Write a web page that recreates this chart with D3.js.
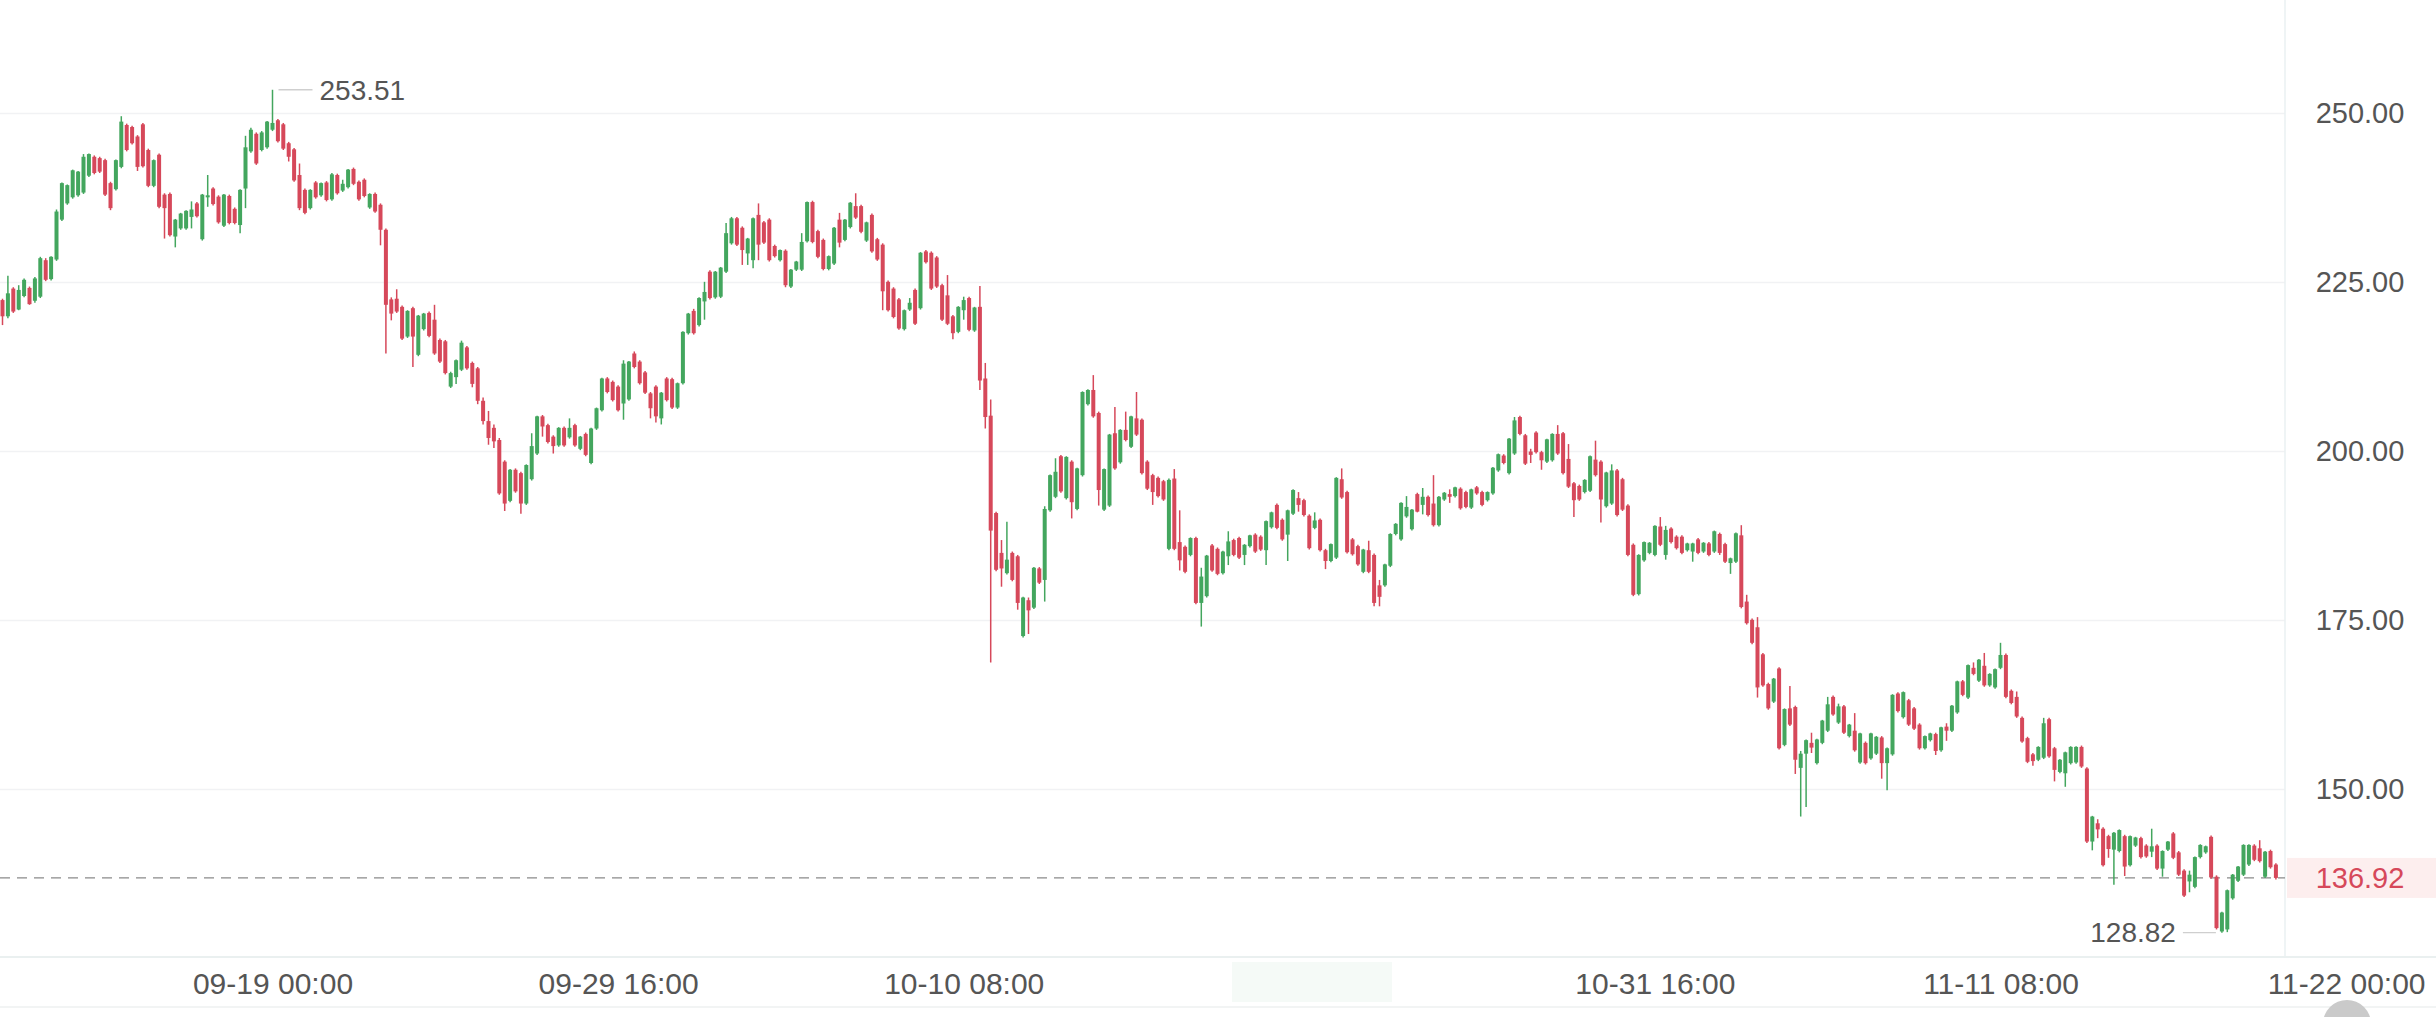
<!DOCTYPE html>
<html><head><meta charset="utf-8">
<script src="https://cdn.jsdelivr.net/npm/d3@7"></script>
<style>html,body{margin:0;padding:0;background:#fff;overflow:hidden}</style>
</head><body>
<svg id="chart" width="2436" height="1017"></svg>
<script>
// ---- data (4-hour candles) ----
const startTime = "2024-09-10T16:00:00Z";
const candleHours = 4;
const open = [
222.4,220.0,224.1,221.0,223.0,224.2,222.3,222.9,228.3,225.5,
228.4,234.3,236.7,237.6,237.9,238.3,240.8,243.6,243.4,243.1,
239.7,238.8,242.1,248.3,248.0,246.6,248.4,244.6,239.3,243.9,
238.0,238.1,231.8,233.0,233.0,234.7,236.7,231.4,237.6,238.9,
237.7,233.4,237.8,235.9,233.5,238.9,244.4,247.0,244.6,245.0,
247.6,249.0,248.4,245.6,244.7,240.9,238.7,236.0,239.8,237.9,
239.8,237.3,240.9,238.6,239.1,241.8,239.9,240.2,236.1,238.1,
236.5,232.8,222.5,222.6,221.4,217.0,221.2,214.3,218.1,220.5,
219.5,216.5,216.3,209.6,211.0,212.1,215.4,213.1,212.3,207.5,
204.5,203.5,201.7,198.5,192.7,197.3,196.8,192.3,195.9,199.7,
205.2,203.9,202.2,200.9,203.5,202.1,203.9,200.4,202.6,198.3,
203.4,206.1,210.8,210.3,209.6,207.1,207.7,214.5,213.3,211.7,
208.6,209.6,204.9,210.8,210.7,206.5,210.1,217.5,220.8,218.7,
222.2,226.6,222.8,222.9,226.6,230.8,234.5,233.1,229.3,228.3,
235.0,233.9,234.3,230.4,228.3,229.7,224.4,226.9,226.9,231.1,
236.9,232.6,231.3,227.0,227.8,234.3,231.3,233.2,236.3,236.3,
231.2,235.0,231.4,230.6,225.1,224.1,222.5,218.1,221.0,223.9,
221.2,229.6,229.4,228.7,224.6,223.1,220.0,217.7,220.9,222.7,
217.9,221.4,210.8,205.3,190.9,185.0,182.0,185.0,184.5,172.7,
178.0,176.9,182.7,181.0,191.3,193.3,199.3,193.1,198.5,191.5,
196.5,207.0,209.1,205.7,191.4,192.0,202.7,198.4,203.2,200.7,
204.9,204.7,198.5,196.5,196.1,195.6,185.6,196.0,186.6,185.9,
184.7,187.2,177.6,178.6,186.1,185.6,182.0,184.5,186.9,187.2,
184.7,186.0,187.7,187.4,185.4,188.8,192.1,189.9,187.7,190.8,
193.1,192.8,190.5,188.7,189.9,185.4,183.8,184.3,195.9,194.0,
187.0,186.0,182.2,185.4,184.7,180.2,180.2,183.1,187.8,187.0,
190.4,188.5,193.7,192.1,193.3,192.3,189.1,192.9,193.7,193.4,
194.5,194.0,191.7,194.7,194.0,192.8,193.8,197.2,199.4,196.8,
199.7,205.1,202.4,200.0,202.8,199.9,198.5,198.7,202.6,202.7,
198.9,195.3,194.9,194.0,194.2,198.8,198.5,191.9,192.3,197.2,
195.9,192.0,186.2,178.9,183.9,185.0,184.7,188.9,184.7,188.6,
187.4,187.4,185.4,185.2,187.0,185.2,186.4,185.2,187.8,186.3,
183.5,183.7,187.6,177.8,175.1,174.0,170.0,165.6,163.0,167.9,
156.6,162.0,162.2,153.2,155.3,156.9,153.9,156.9,158.7,163.7,
159.9,162.3,157.9,158.7,154.0,156.9,154.6,155.3,157.7,153.9,
155.2,164.2,160.7,163.2,162.0,159.6,156.1,157.3,158.2,155.8,
159.3,158.7,161.4,166.0,163.6,168.0,166.1,168.3,165.4,165.1,
168.0,169.9,164.6,163.7,160.6,157.6,155.2,154.4,154.7,160.4,
156.1,152.6,152.4,153.9,154.0,156.3,153.1,142.3,145.0,144.2,
143.1,141.1,140.9,143.1,138.8,141.7,142.8,141.7,140.8,141.7,
138.3,141.1,143.5,140.7,138.0,136.4,135.6,140.0,140.7,143.0,
137.1,129.0,129.3,133.9,136.5,137.4,138.9,141.7,141.3,137.1,
140.9,138.9];
const high = [
222.6,226.0,224.3,224.6,225.6,224.4,225.8,228.8,228.6,228.9,
235.8,239.8,239.5,241.7,241.5,244.0,244.1,243.8,243.6,243.3,
239.9,243.2,249.6,248.5,248.2,246.8,248.6,244.8,243.2,244.1,
238.2,238.3,234.4,235.3,235.7,237.0,236.9,238.1,240.9,239.1,
237.9,238.1,238.0,236.1,238.8,246.7,247.9,247.2,247.4,248.9,
253.51,249.2,248.6,245.8,244.9,242.6,238.9,238.8,240.0,239.8,
240.0,241.2,241.1,240.2,241.8,242.0,240.1,240.4,238.2,238.3,
236.7,233.0,222.8,224.0,221.6,220.9,221.4,220.2,220.5,220.7,
221.7,216.7,216.5,211.8,213.6,216.4,215.6,213.3,212.5,208.0,
206.0,204.0,202.0,198.7,197.4,197.5,197.0,198.1,202.7,205.3,
205.4,204.1,202.4,203.6,203.7,204.9,204.1,202.3,202.8,203.5,
206.5,210.9,211.0,210.5,209.8,213.5,213.4,214.8,213.5,211.9,
208.8,209.8,208.8,211.0,210.9,210.2,217.8,220.5,221.1,222.8,
225.1,226.8,226.7,227.3,233.8,234.7,234.7,233.3,231.6,234.6,
236.7,234.1,234.5,230.6,229.9,229.9,227.0,228.2,232.3,237.0,
237.1,232.8,231.5,229.0,233.2,235.3,234.4,236.9,238.2,236.5,
234.0,235.2,231.6,230.8,225.3,224.3,222.7,221.0,222.7,224.1,
229.5,229.8,229.6,228.9,224.8,226.1,220.2,221.5,222.9,222.9,
221.4,224.5,213.1,207.7,191.1,186.9,189.6,185.2,184.7,178.5,
178.4,182.9,182.9,191.9,196.6,199.0,199.5,199.3,198.7,197.6,
208.9,209.2,211.3,205.9,197.5,202.6,206.6,203.3,205.9,205.3,
208.8,204.9,198.7,196.7,196.3,195.8,196.0,197.4,191.3,186.1,
187.3,187.4,182.8,184.7,186.3,185.8,185.3,188.2,187.1,187.4,
186.3,187.7,187.9,187.6,189.8,191.1,192.3,190.1,191.4,194.4,
194.0,193.0,190.7,191.0,190.1,185.6,186.4,196.2,197.5,194.2,
187.2,186.2,185.6,186.8,184.9,181.0,183.4,187.9,189.4,192.5,
193.4,191.5,193.9,194.6,193.5,196.5,193.4,194.0,194.4,194.8,
194.7,194.2,194.5,194.9,194.2,194.1,197.7,199.7,199.6,202.0,
205.1,205.3,202.6,200.4,203.0,200.1,201.9,202.7,203.9,202.9,
201.1,195.5,195.1,195.9,199.4,201.6,198.7,197.0,198.1,197.4,
196.1,192.2,186.4,184.8,186.7,186.6,189.1,190.3,189.0,188.8,
187.6,187.6,186.5,186.5,187.2,186.6,186.6,188.3,188.0,186.5,
184.3,188.0,189.1,178.8,175.3,175.5,170.2,165.8,166.5,168.1,
162.0,165.3,162.4,155.7,157.4,158.4,157.5,160.3,163.7,163.9,
162.7,162.5,159.7,161.3,158.4,157.1,158.4,157.9,157.9,156.2,
164.1,164.4,164.5,163.4,162.2,159.8,158.0,158.4,158.4,159.3,
159.8,162.5,166.1,166.2,168.5,168.8,169.3,170.2,167.2,167.9,
171.7,170.1,164.8,164.5,160.8,157.8,155.4,156.4,160.6,160.6,
156.3,154.5,155.6,156.4,156.4,156.5,153.3,146.1,145.6,144.4,
143.3,143.7,144.1,143.3,143.2,143.0,143.0,141.9,144.2,141.9,
141.0,142.4,143.7,140.9,138.2,138.0,140.1,141.9,141.7,143.2,
137.3,131.9,135.2,137.5,138.7,141.9,141.9,141.9,142.5,140.9,
141.1,139.1];
const low = [
218.7,219.7,220.5,220.9,222.8,221.7,222.0,222.7,225.2,225.3,
228.2,234.1,236.5,237.4,237.7,238.1,240.6,241.0,241.2,237.8,
235.7,238.6,241.9,244.4,245.4,241.5,242.0,239.1,239.1,236.0,
231.5,231.8,230.2,232.8,232.8,233.0,234.6,231.2,236.2,236.4,
233.7,233.2,233.6,233.6,232.3,236.0,244.2,242.4,244.4,244.8,
247.4,245.7,244.6,242.9,239.9,235.7,235.1,235.8,237.4,237.7,
237.0,237.1,238.0,238.4,238.9,239.4,237.1,237.6,235.9,235.3,
230.5,214.5,219.4,220.5,216.5,216.8,212.5,214.1,217.9,216.9,
214.3,213.1,211.4,209.4,210.0,211.9,212.1,209.5,207.0,204.0,
201.0,200.5,193.6,191.2,192.5,193.9,190.8,192.1,195.7,199.5,
202.2,201.2,199.7,200.7,200.7,201.9,200.7,200.2,199.3,198.1,
203.2,205.9,208.6,207.4,205.9,204.7,207.5,212.3,209.9,208.5,
204.9,204.3,204.0,207.4,206.3,206.3,209.9,217.3,217.3,218.5,
219.5,222.5,222.6,222.7,226.4,230.6,230.4,227.6,227.6,227.1,
228.3,230.7,228.1,228.7,228.1,224.3,224.2,226.7,226.7,230.9,
230.8,228.6,226.8,226.8,227.6,230.2,231.1,233.0,234.4,232.3,
231.0,229.4,228.2,220.9,220.7,219.7,218.0,217.9,220.8,218.7,
221.0,227.8,223.9,224.2,219.3,218.7,216.6,217.5,219.5,217.8,
217.7,209.1,203.4,168.8,182.3,180.0,181.8,180.8,176.6,172.5,
173.0,176.7,180.4,177.8,191.1,193.1,193.9,192.9,190.1,191.3,
196.3,206.8,205.0,192.0,191.2,191.8,197.3,198.2,201.5,200.5,
202.3,196.6,194.3,192.1,193.2,192.7,185.4,185.4,182.4,182.0,
184.5,177.4,174.1,178.4,182.2,181.7,181.8,183.2,184.5,184.1,
183.2,185.8,185.0,185.3,183.2,188.6,188.5,186.8,183.8,190.6,
191.1,190.4,185.5,188.5,185.2,182.6,183.6,184.1,193.0,184.9,
184.6,183.1,182.0,182.0,177.1,177.1,180.0,182.9,187.6,186.8,
190.2,188.3,191.0,190.7,190.4,188.9,188.9,192.7,192.4,193.2,
191.4,191.6,191.5,193.6,191.9,192.6,193.6,197.0,198.1,196.6,
199.5,202.4,198.0,198.3,199.7,197.3,198.3,198.5,199.5,196.6,
194.6,190.3,192.7,193.8,194.0,196.3,189.5,191.7,192.1,190.4,
191.2,184.5,178.6,178.7,183.7,184.8,184.5,186.0,184.0,186.4,
185.5,184.8,185.2,183.7,184.8,185.0,184.5,185.0,184.7,183.5,
181.9,183.5,176.8,174.4,171.5,163.6,165.2,161.8,162.8,155.9,
156.4,159.4,152.3,146.0,147.4,155.4,153.7,156.7,158.5,160.9,
159.7,158.2,157.7,155.6,153.8,153.7,154.4,155.1,151.6,149.9,
155.0,161.4,160.5,159.4,158.8,155.9,155.9,157.1,155.1,155.6,
157.2,158.5,161.2,163.8,163.4,166.9,165.9,165.2,165.2,164.9,
167.8,163.5,162.6,160.6,156.9,153.9,153.5,154.2,154.5,154.7,
151.2,152.4,150.4,153.7,153.8,153.2,142.1,141.0,142.8,138.6,
139.9,135.9,140.7,137.2,138.6,141.5,139.8,139.9,140.0,138.1,
137.1,140.9,139.7,137.2,134.1,134.8,135.4,139.8,140.5,136.8,
129.3,128.82,128.9,133.7,136.3,137.2,138.7,139.4,139.2,136.9,
138.3,136.7];
const close = [
220.0,223.4,220.7,223.9,225.4,221.8,225.6,228.6,225.4,228.8,
235.5,239.7,239.4,241.6,241.4,243.6,244.0,241.2,241.4,238.0,
236.0,243.1,248.8,244.6,245.6,242.1,242.2,239.3,243.1,236.2,
236.0,232.0,234.3,235.2,235.6,235.8,234.8,238.0,237.9,236.6,
233.9,238.0,233.8,233.8,238.7,245.0,247.6,242.6,247.2,248.8,
248.6,245.9,244.8,243.6,240.1,236.0,235.3,238.7,237.6,239.7,
237.2,241.0,238.2,239.6,241.7,239.6,237.3,237.8,238.1,235.5,
232.8,221.7,220.4,220.7,216.7,220.8,217.0,220.1,220.4,217.1,
214.5,213.3,211.6,211.6,213.5,216.1,212.3,210.0,207.5,204.5,
202.0,201.5,193.8,192.3,197.3,194.1,192.3,198.0,200.8,205.2,
203.7,201.4,200.8,203.5,200.9,203.5,200.9,202.2,199.5,203.4,
206.4,210.8,208.8,207.6,206.1,213.0,213.3,212.5,210.1,208.7,
206.4,205.2,208.7,207.6,206.5,210.1,217.7,220.4,217.5,222.7,
223.6,222.7,226.6,227.2,232.3,234.5,230.6,229.8,231.5,234.5,
230.6,230.9,228.3,228.9,229.8,224.6,226.9,228.1,231.0,236.9,
231.0,228.8,227.0,228.9,233.1,230.9,234.3,236.8,234.6,232.5,
233.9,229.6,228.4,223.7,220.9,219.9,218.2,220.9,222.0,218.9,
229.4,228.0,224.1,224.4,219.5,218.9,217.5,221.4,222.4,218.0,
221.3,210.5,205.1,188.3,182.5,182.7,184.0,181.0,177.6,178.4,
176.5,182.8,180.6,191.5,196.5,197.0,194.1,199.2,192.5,197.5,
208.8,209.1,205.2,194.3,197.4,202.5,197.5,203.2,201.7,205.2,
202.5,196.8,194.5,194.0,193.4,192.9,195.8,185.6,183.9,182.2,
187.2,177.6,181.5,184.6,182.4,181.9,185.2,186.7,184.7,184.3,
186.2,187.6,185.2,185.5,189.7,191.0,188.7,187.0,191.3,194.3,
192.1,190.6,185.7,189.8,185.4,183.8,186.3,196.1,193.2,185.1,
184.8,183.3,185.5,182.2,177.6,178.5,183.3,187.8,189.3,192.4,
191.8,191.4,191.1,193.3,190.6,189.1,193.3,193.9,193.3,194.7,
191.6,191.8,194.4,193.8,192.1,194.0,197.6,199.6,198.3,201.9,
204.6,202.6,198.2,199.5,199.9,198.7,201.8,202.6,199.7,196.8,
194.8,192.8,192.9,195.8,199.3,196.5,192.9,196.9,197.2,190.6,
191.4,184.7,178.8,184.7,186.6,186.5,189.0,186.2,188.4,186.6,
185.7,185.0,186.4,186.4,185.0,186.5,184.7,188.2,185.0,183.7,
184.2,187.9,177.0,174.6,171.7,165.1,165.4,162.0,166.4,156.1,
161.9,159.6,154.4,155.3,157.3,156.2,157.4,160.2,162.6,161.1,
162.3,158.4,159.6,155.8,158.3,153.9,158.3,157.8,153.9,156.1,
164.0,161.6,164.4,159.6,159.0,156.1,157.9,158.3,155.7,159.2,
158.7,162.4,166.0,164.0,168.4,167.1,169.2,165.4,167.1,167.8,
169.9,163.7,162.8,160.8,157.1,154.1,154.2,156.3,159.8,154.9,
152.9,154.4,155.5,156.3,156.3,153.4,142.3,146.0,144.1,138.8,
141.2,143.6,144.0,138.6,143.1,142.9,140.0,140.1,141.6,138.3,
140.9,142.3,139.9,137.4,134.3,137.4,140.0,141.8,141.6,137.0,
129.5,131.8,135.1,137.4,138.6,141.8,141.8,139.6,139.4,140.8,
138.5,136.92];
const yTickValues = [150, 175, 200, 225, 250];
const xTickLabels = ["09-19 00:00", "09-29 16:00", "10-10 08:00", "10-31 16:00", "11-11 08:00", "11-22 00:00"];
const xTickTimes = ["2024-09-19T00:00:00Z", "2024-09-29T16:00:00Z", "2024-10-10T08:00:00Z", "2024-10-31T16:00:00Z", "2024-11-11T08:00:00Z", "2024-11-22T00:00:00Z"];
const lastPrice = 136.92;

// ---- build ----
const W = 2436, H = 1017;
const plotRight = 2285, plotBottom = 957;
const UP = "#43a65e", DOWN = "#d6485a";
const FONT = "'Liberation Sans', Arial, sans-serif";
const t0 = new Date(startTime).getTime();
const candles = open.map((o, i) => ({
  t: new Date(t0 + i * candleHours * 3600e3),
  o, h: high[i], l: low[i], c: close[i]
}));

const svg = d3.select("#chart");
const x = d3.scaleUtc()
  .domain([candles[0].t, candles[candles.length - 1].t])
  .range([2.5, 2.5 + 5.4 * (candles.length - 1)]);
const y = d3.scaleLinear().domain([150, 250]).range([789.5, 113.5]);

// grid
svg.append("g").selectAll("line").data(yTickValues).join("line")
  .attr("x1", 0).attr("x2", plotRight)
  .attr("y1", d => y(d)).attr("y2", d => y(d))
  .attr("stroke", "#f1f2f4").attr("stroke-width", 1.5);

// frame lines
svg.append("line").attr("x1", plotRight).attr("x2", plotRight).attr("y1", 0).attr("y2", plotBottom)
  .attr("stroke", "#eaf0f2").attr("stroke-width", 1.5);
svg.append("line").attr("x1", 0).attr("x2", W).attr("y1", plotBottom).attr("y2", plotBottom)
  .attr("stroke", "#eaf0f0").attr("stroke-width", 2);
svg.append("line").attr("x1", 0).attr("x2", W).attr("y1", 1007).attr("y2", 1007)
  .attr("stroke", "#eef1f1").attr("stroke-width", 1.5);

// faint blurred label area in the time axis
svg.append("rect").attr("x", 1232).attr("y", 962).attr("width", 160).attr("height", 40)
  .attr("fill", "#f5faf7");

// last price dashed line
svg.append("line").attr("x1", 0).attr("x2", plotRight)
  .attr("y1", y(lastPrice)).attr("y2", y(lastPrice))
  .attr("stroke", "#8a8a8a").attr("stroke-width", 1.3).attr("stroke-dasharray", "10,7");

// candles
const g = svg.append("g");
const cg = g.selectAll("g.c").data(candles).join("g")
  .attr("class", "c");
cg.append("line")
  .attr("x1", d => x(d.t)).attr("x2", d => x(d.t))
  .attr("y1", d => y(d.h)).attr("y2", d => y(d.l))
  .attr("stroke", d => d.c >= d.o ? UP : DOWN).attr("stroke-width", 1.5);
cg.append("rect")
  .attr("x", d => x(d.t) - 2).attr("width", 4)
  .attr("y", d => y(Math.max(d.o, d.c)))
  .attr("height", d => Math.max(1.2, Math.abs(y(d.o) - y(d.c))))
  .attr("fill", d => d.c >= d.o ? UP : DOWN);

// right axis
const yAxis = d3.axisRight(y).tickValues(yTickValues).tickFormat(d3.format(".2f")).tickSize(0).tickPadding(0);
const ya = svg.append("g").attr("transform", `translate(2360,0)`).call(yAxis);
ya.select(".domain").remove();
ya.selectAll("text").attr("text-anchor", "middle").attr("x", 0)
  .style("font-family", FONT).style("font-size", "29px").attr("fill", "#555");

// bottom axis
const xAxis = d3.axisBottom(x).tickValues(xTickTimes.map(s => new Date(s)))
  .tickFormat((d, i) => xTickLabels[i]).tickSize(0).tickPadding(0);
const xa = svg.append("g").attr("transform", `translate(0,${plotBottom})`).call(xAxis);
xa.select(".domain").remove();
xa.selectAll("text").attr("y", 26).attr("dy", "0.35em")
  .style("font-family", FONT).style("font-size", "30px").attr("fill", "#555");

// last price tag
svg.append("rect").attr("x", plotRight + 2).attr("y", y(lastPrice) - 20).attr("width", W - plotRight - 2).attr("height", 40)
  .attr("fill", "#fdeeee");
svg.append("text").attr("x", 2360).attr("y", y(lastPrice)).attr("dy", "0.35em").attr("text-anchor", "middle")
  .style("font-family", FONT).style("font-size", "29px").attr("fill", DOWN)
  .text(d3.format(".2f")(lastPrice));

// max / min annotations
const maxI = d3.maxIndex(candles, d => d.h);
const minI = d3.minIndex(candles, d => d.l);
const mx = x(candles[maxI].t), my = y(candles[maxI].h);
svg.append("line").attr("x1", mx + 6).attr("x2", mx + 40).attr("y1", my).attr("y2", my)
  .attr("stroke", "#cfcfcf").attr("stroke-width", 1.3);
svg.append("text").attr("x", mx + 47).attr("y", my).attr("dy", "0.35em")
  .style("font-family", FONT).style("font-size", "28px").attr("fill", "#555")
  .text(d3.format(".2f")(candles[maxI].h));
const nx = x(candles[minI].t), ny = y(candles[minI].l);
svg.append("line").attr("x1", nx - 6).attr("x2", nx - 39).attr("y1", ny).attr("y2", ny)
  .attr("stroke", "#cfcfcf").attr("stroke-width", 1.3);
svg.append("text").attr("x", nx - 46).attr("y", ny).attr("dy", "0.35em").attr("text-anchor", "end")
  .style("font-family", FONT).style("font-size", "28px").attr("fill", "#555")
  .text(d3.format(".2f")(candles[minI].l));

// partially visible round button at bottom right
svg.append("circle").attr("cx", 2347).attr("cy", 1024).attr("r", 24).attr("fill", "#cacaca");
</script>
</body></html>
